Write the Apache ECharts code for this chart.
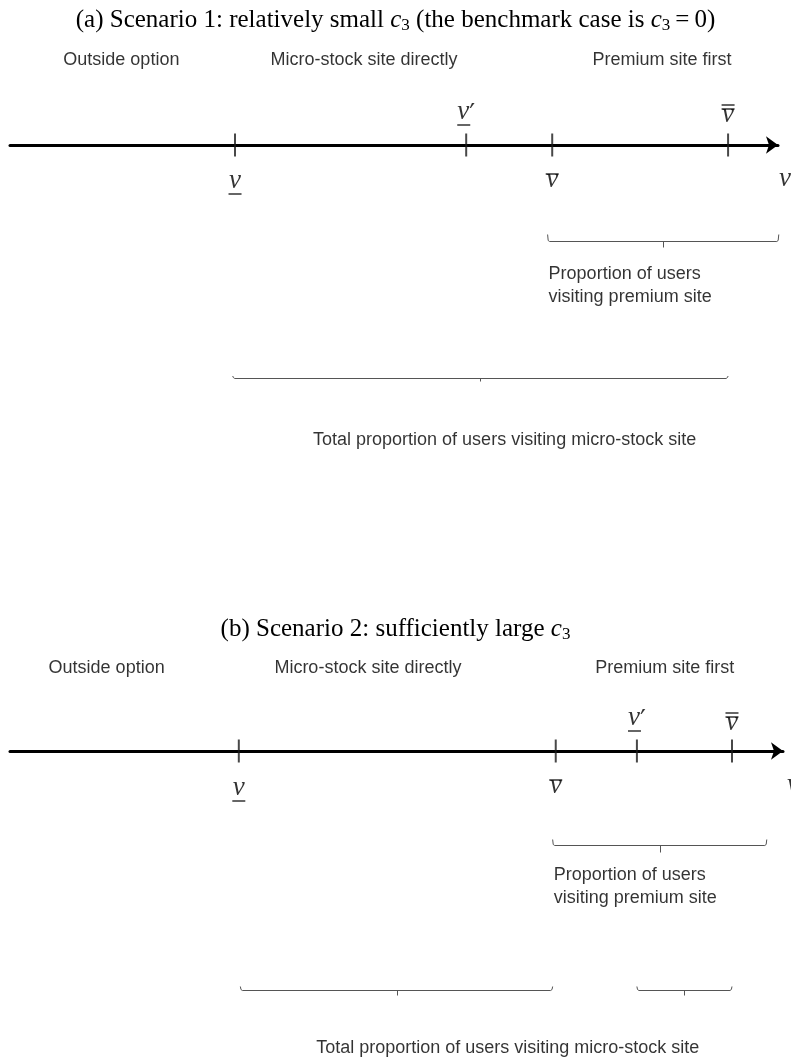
<!DOCTYPE html>
<html>
<head>
<meta charset="utf-8">
<script src="https://cdn.jsdelivr.net/npm/echarts@6/dist/echarts.min.js"></script>
<style>
html,body{margin:0;padding:0;background:#fff;}
#chart{width:791px;height:1061px;}
</style>
</head>
<body>
<div id="chart"></div>
<script>
// ---------- data ----------
const titleA = '(a) Scenario 1: relatively small {i|c}{s|3} (the benchmark case is {i|c}{s|3}\u2009=\u20090)';
const titleB = '(b) Scenario 2: sufficiently large {i|c}{s|3}';
const regionNames = ['Outside option', 'Micro-stock site directly', 'Premium site first'];
// positions along the v-axis (0 = left end of axis, 100 = arrow tip)
const regionCentersA = [14.5, 46.1, 84.9];
const regionCentersB = [12.5, 46.3, 84.7];
const thresholdKeysA = ['under', 'underPrime', 'bar', 'dbar'];   // v_, v_', v-bar, v-double-bar
const thresholdsA = [29.3, 59.4, 70.6, 93.5];
const thresholdKeysB = ['under', 'bar', 'underPrime', 'dbar'];
const thresholdsB = [29.6, 70.6, 81.1, 93.4];
const axisVarLabel = 'v';
const axisVarPosA = 100.9;
const axisVarPosB = 101.3;
const premiumRangesA = [[70.0, 100.1]];
const totalRangesA = [[29.0, 93.5]];
const premiumRangesB = [[70.2, 97.9]];
const totalRangesB = [[29.8, 70.2], [81.1, 93.4]];
const premiumLabel = ['Proportion of users', 'visiting premium site'];
const totalLabel = 'Total proportion of users visiting micro-stock site';

// ---------- layout / style ----------
const SANS = '"Liberation Sans", Arial, sans-serif';
const SERIF = '"Liberation Serif", "Times New Roman", serif';
const chart = echarts.init(document.getElementById('chart'), null, {renderer: 'canvas'});

const mathRich = {
  vU: {fontFamily: SERIF, fontStyle: 'italic', fontSize: 27, lineHeight: 18, color: '#000'},
  vO: {fontFamily: SERIF, fontStyle: 'italic', fontSize: 27, lineHeight: 8, color: '#000'},
  p: {fontFamily: '"DejaVu Sans", sans-serif', fontSize: 26, lineHeight: 18, verticalAlign: 'top', color: '#000'},
  ul: {width: 13, height: 1.5, lineHeight: 8, backgroundColor: '#000', align: 'left'},
  ol: {width: 13, height: 1.5, lineHeight: 4, backgroundColor: '#000'},
  ol2: {width: 13, height: 1.5, lineHeight: 4, backgroundColor: '#000'},
  olm: {width: 13, height: 1.5, lineHeight: 4, backgroundColor: '#000'}
};
const mathFmt = {
  under: '{vU|v}\n{ul|}',
  underPrime: '{vU|v}{p|\u2032}\n{ul|}',
  bar: '{ol|}\n{vO|v}',
  dbar: '{ol2|}\n{olm|}\n{vO|v}',
  plain: '{vU|v}'
};
const txt = {color: '#000', textBorderWidth: 0, textShadowBlur: 0};

function panel(idx, cfg) {
  const series = [];
  // threshold ticks
  series.push({
    type: 'scatter', xAxisIndex: idx, yAxisIndex: idx, silent: true, clip: false,
    symbol: 'rect', symbolSize: [2, 23], itemStyle: {color: '#1a1a1a'},
    data: cfg.thresholds.map(v => [v, 0]), z: 5
  });
  // threshold labels
  const labData = cfg.thresholds.map((v, k) => ({value: [v, cfg.labY[cfg.keys[k]]], key: cfg.keys[k]}));
  labData.push({value: [cfg.varPos, cfg.labY.plain], key: 'plain'});
  series.push({
    type: 'scatter', xAxisIndex: idx, yAxisIndex: idx, silent: true, clip: false,
    symbolSize: 0, data: labData,
    label: Object.assign({
      show: true, position: 'inside', align: 'center', verticalAlign: 'top',
      formatter: p => mathFmt[p.data.key].replace('{vU|v}', '{vU|' + axisVarLabel + '}'),
      rich: mathRich
    }, txt)
  });
  // region labels
  series.push({
    type: 'scatter', xAxisIndex: idx, yAxisIndex: idx, silent: true, clip: false,
    symbolSize: 0,
    data: cfg.regionCenters.map((c, k) => ({value: [c, cfg.regionY], name: regionNames[k]})),
    label: Object.assign({show: true, position: 'inside', formatter: '{b}',
      fontFamily: SANS, fontSize: 18, align: 'center', verticalAlign: 'middle'}, txt)
  });
  // braces
  function braceSeries(ranges, y, hook, tick) {
    return {
      type: 'custom', xAxisIndex: idx, yAxisIndex: idx, silent: true, clip: false,
      data: ranges.map(r => [r[0], r[1], y]),
      renderItem: function (params, api) {
        const p0 = api.coord([api.value(0), api.value(2)]);
        const p1 = api.coord([api.value(1), api.value(2)]);
        const xm = (p0[0] + p1[0]) / 2;
        const yy = Math.round(p0[1]) + 0.5;
        return {
          type: 'group', children: [
            {type: 'polyline', shape: {points: [[p0[0], yy - hook], [p0[0] + 0.6, yy - 1], [p0[0] + 2, yy], [p1[0] - 2, yy], [p1[0] - 0.6, yy - 1], [p1[0], yy - hook]]},
              style: {stroke: '#555', lineWidth: 1, fill: null}},
            {type: 'line', shape: {x1: Math.round(xm) + 0.5, y1: yy, x2: Math.round(xm) + 0.5, y2: yy + tick},
              style: {stroke: '#555', lineWidth: 1}}
          ]
        };
      }
    };
  }
  series.push(braceSeries(cfg.premiumRanges, cfg.premiumBraceY, cfg.premiumHook, cfg.premiumTick));
  series.push(braceSeries(cfg.totalRanges, cfg.totalBraceY, cfg.totalHook, cfg.totalTick));
  // premium text
  series.push({
    type: 'scatter', xAxisIndex: idx, yAxisIndex: idx, silent: true, clip: false, symbolSize: 0,
    data: [[cfg.premiumRanges[0][0], cfg.premiumTextY]],
    label: Object.assign({show: true, position: 'inside', align: 'left', verticalAlign: 'middle',
      formatter: premiumLabel.join('\n'), fontFamily: SANS, fontSize: 18, lineHeight: 23,
      offset: [1, 0]}, txt)
  });
  // total text
  series.push({
    type: 'scatter', xAxisIndex: idx, yAxisIndex: idx, silent: true, clip: false, symbolSize: 0,
    data: [[cfg.totalTextX, cfg.totalTextY]],
    label: Object.assign({show: true, position: 'inside', align: 'center', verticalAlign: 'middle',
      formatter: totalLabel, fontFamily: SANS, fontSize: 18}, txt)
  });
  return series;
}

const cfgA = {
  thresholds: thresholdsA, keys: thresholdKeysA, varPos: axisVarPosA,
  labY: {under: 27, underPrime: -42, bar: 27, dbar: -42, plain: 25},
  regionCenters: regionCentersA, regionY: -85,
  premiumRanges: premiumRangesA, premiumBraceY: 96, premiumHook: 7, premiumTick: 6,
  totalRanges: totalRangesA, totalBraceY: 233, totalHook: 2.5, totalTick: 3,
  premiumTextY: 140.5, totalTextX: 64.4, totalTextY: 295
};
const cfgB = {
  thresholds: thresholdsB, keys: thresholdKeysB, varPos: axisVarPosB,
  labY: {under: 28, underPrime: -42, bar: 27, dbar: -40, plain: 25},
  regionCenters: regionCentersB, regionY: -83,
  premiumRanges: premiumRangesB, premiumBraceY: 94, premiumHook: 6, premiumTick: 7,
  totalRanges: totalRangesB, totalBraceY: 239, totalHook: 4, totalTick: 5,
  premiumTextY: 135.5, totalTextX: 64.4, totalTextY: 297
};

function xAx(idx) {
  return {
    type: 'value', gridIndex: idx, min: 0, max: 100,
    axisLine: {show: true, onZero: true, symbol: ['none', 'arrow'], symbolSize: [13, 12],
      lineStyle: {color: '#000', width: 3}},
    axisTick: {show: false}, axisLabel: {show: false}, splitLine: {show: false}
  };
}
function yAx(idx) {
  return {type: 'value', gridIndex: idx, min: -145, max: 308, inverse: true, show: false,
    axisLine: {show: false}, splitLine: {show: false}};
}

const titleStyle = {
  fontFamily: SERIF, fontSize: 25, fontWeight: 'normal', color: '#000', lineHeight: 28,
  rich: {
    i: {fontFamily: SERIF, fontStyle: 'italic', fontSize: 25, lineHeight: 28},
    s: {fontFamily: SERIF, fontSize: 17, lineHeight: 13, verticalAlign: 'bottom'}
  }
};

chart.setOption({
  backgroundColor: '#fff',
  animation: false,
  title: [
    {text: titleA, left: 'center', top: 1, textStyle: titleStyle},
    {text: titleB, left: 'center', top: 610, textStyle: titleStyle}
  ],
  grid: [
    {left: 10, right: 13, top: 0, height: 453},
    {left: 10, right: 8, top: 606, height: 453}
  ],
  xAxis: [xAx(0), xAx(1)],
  yAxis: [yAx(0), yAx(1)],
  series: panel(0, cfgA).concat(panel(1, cfgB))
});
</script>
</body>
</html>
